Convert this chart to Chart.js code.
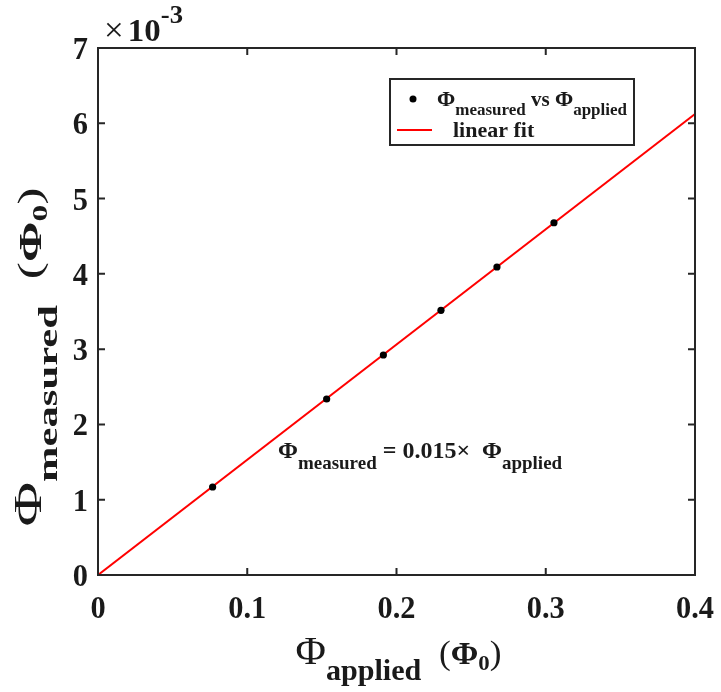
<!DOCTYPE html>
<html>
<head>
<meta charset="utf-8">
<script src="https://cdn.jsdelivr.net/npm/chart.js@4/dist/chart.umd.min.js"></script>
<style>
  html, body { margin: 0; padding: 0; background: #fff; }
  canvas { display: block; }
</style>
</head>
<body>
<canvas id="c" width="721" height="692"></canvas>
<script>
// Applied flux (in units of flux quantum) and the measured response
const appliedFlux  = [0.0768, 0.1532, 0.1912, 0.2298, 0.2673, 0.3055];
const measuredFlux = [0.001169, 0.002338, 0.002922, 0.003516, 0.004091, 0.004679];

// End points of the linear fit
const fitApplied  = [0, 0.4];
const fitMeasured = [0, 0.006124];

// Axis ticks
const xTickValues = [0, 0.1, 0.2, 0.3, 0.4];
const xTickLabels = ['0', '0.1', '0.2', '0.3', '0.4'];
const yTickValues = [0, 0.001, 0.002, 0.003, 0.004, 0.005, 0.006, 0.007];
const yTickLabels = ['0', '1', '2', '3', '4', '5', '6', '7'];

const SERIF = "'Liberation Serif', 'Times New Roman', serif";
const INK = '#1a1a1a';
const AXIS = '#262626';

function f(weight, size) { return weight + ' ' + size + 'px ' + SERIF; }

// Draw a run of text pieces (with sub/superscript offsets) on one baseline.
// sx scales the run horizontally; if fit is given the run is stretched to that length.
function rich(ctx, segs, x, y, align, sx, fit) {
  ctx.save();
  let total = 0;
  segs.forEach(s => { ctx.font = s.font; total += ctx.measureText(s.t).width; });
  if (fit) sx = fit / total;
  ctx.translate(x, y);
  ctx.scale(sx, 1);
  let cx = align === 'center' ? -total / 2 : align === 'right' ? -total : 0;
  ctx.textBaseline = 'alphabetic';
  ctx.textAlign = 'left';
  segs.forEach(s => {
    ctx.font = s.font;
    ctx.fillStyle = s.color || INK;
    ctx.fillText(s.t, cx, s.dy || 0);
    cx += ctx.measureText(s.t).width;
  });
  ctx.restore();
}

const decorations = {
  id: 'decorations',
  afterDatasetsDraw(chart) {
    const ctx = chart.ctx;
    const a = chart.chartArea;
    const xs = chart.scales.x, ys = chart.scales.y;

    // Box around the plot
    ctx.save();
    ctx.strokeStyle = AXIS;
    ctx.lineWidth = 2;
    ctx.strokeRect(a.left, a.top, a.right - a.left, a.bottom - a.top);

    // Inward tick marks on all four sides
    const TL = 7;
    ctx.beginPath();
    xTickValues.forEach(v => {
      const px = xs.getPixelForValue(v);
      ctx.moveTo(px, a.bottom); ctx.lineTo(px, a.bottom - TL);
      ctx.moveTo(px, a.top);    ctx.lineTo(px, a.top + TL);
    });
    yTickValues.forEach(v => {
      const py = ys.getPixelForValue(v);
      ctx.moveTo(a.left, py);  ctx.lineTo(a.left + TL, py);
      ctx.moveTo(a.right, py); ctx.lineTo(a.right - TL, py);
    });
    ctx.stroke();
    ctx.restore();

    // Tick labels
    xTickValues.forEach((v, i) => {
      rich(ctx, [{ t: xTickLabels[i], font: f(700, 32) }], xs.getPixelForValue(v), a.bottom + 43, 'center', 0.95);
    });
    yTickValues.forEach((v, i) => {
      rich(ctx, [{ t: yTickLabels[i], font: f(700, 32) }], a.left - 10, ys.getPixelForValue(v) + 11, 'right', 0.95);
    });

    // Exponent of the y axis
    rich(ctx, [
      { t: '\u00d7', font: f(400, 34) },
      { t: ' ', font: f(400, 16) },
      { t: '10', font: f(700, 32) },
      { t: '-3', font: f(700, 26), dy: -18 }
    ], a.left + 6, a.top - 7, 'left', 1, 79);

    // Axis titles
    rich(ctx, [
      { t: '\u03a6', font: f(400, 40) },
      { t: 'applied', font: f(700, 29), dy: 16 },
      { t: '  (', font: f(400, 34) },
      { t: '\u03a6', font: f(700, 32) },
      { t: '0', font: f(700, 22), dy: 6 },
      { t: ')', font: f(400, 34) }
    ], (a.left + a.right) / 2 + 2, 664, 'center', 1, 206);

    ctx.save();
    ctx.translate(41, 357);
    ctx.rotate(-Math.PI / 2);
    rich(ctx, [
      { t: '\u03a6', font: f(400, 40) },
      { t: 'measured', font: f(700, 28), dy: 16 },
      { t: '  (', font: f(400, 34) },
      { t: '\u03a6', font: f(700, 32) },
      { t: '0', font: f(700, 22), dy: 6 },
      { t: ')', font: f(400, 34) }
    ], 0, 0, 'center', 1, 339);
    ctx.restore();

    // Fit equation
    rich(ctx, [
      { t: '\u03a6', font: f(700, 24) },
      { t: 'measured', font: f(700, 19), dy: 11 },
      { t: ' = 0.015\u00d7  ', font: f(700, 24) },
      { t: '\u03a6', font: f(700, 24) },
      { t: 'applied', font: f(700, 19), dy: 11 }
    ], 278, 458, 'left', 1);

    // Legend
    ctx.save();
    ctx.fillStyle = '#fff';
    ctx.fillRect(390, 79, 244, 66);
    ctx.strokeStyle = AXIS;
    ctx.lineWidth = 2;
    ctx.strokeRect(390, 79, 244, 66);
    ctx.fillStyle = '#000';
    ctx.beginPath();
    ctx.arc(413, 99, 3.5, 0, Math.PI * 2);
    ctx.fill();
    ctx.strokeStyle = '#ff0000';
    ctx.beginPath();
    ctx.moveTo(397, 130); ctx.lineTo(432, 130);
    ctx.stroke();
    ctx.restore();
    rich(ctx, [
      { t: '\u03a6', font: f(700, 22) },
      { t: 'measured', font: f(700, 17), dy: 9 },
      { t: ' vs ', font: f(700, 21) },
      { t: '\u03a6', font: f(700, 22) },
      { t: 'applied', font: f(700, 17), dy: 9 }
    ], 437, 106, 'left', 1);
    rich(ctx, [{ t: 'linear fit', font: f(700, 22) }], 453, 137, 'left', 1);
  }
};

new Chart(document.getElementById('c'), {
  type: 'scatter',
  data: {
    datasets: [
      {
        label: 'measured vs applied',
        data: appliedFlux.map((x, i) => ({ x, y: measuredFlux[i] })),
        pointRadius: 3.6,
        pointBackgroundColor: '#000',
        pointBorderWidth: 0,
        showLine: false
      },
      {
        label: 'linear fit',
        data: fitApplied.map((x, i) => ({ x, y: fitMeasured[i] })),
        showLine: true,
        borderColor: '#ff0000',
        borderWidth: 2,
        pointRadius: 0
      }
    ]
  },
  options: {
    responsive: false,
    animation: false,
    devicePixelRatio: 1,
    layout: { padding: { top: 48, right: 26, left: 0, bottom: 0 } },
    plugins: { legend: { display: false }, tooltip: { enabled: false } },
    scales: {
      x: {
        type: 'linear', min: 0, max: 0.4,
        afterBuildTicks: s => { s.ticks = xTickValues.map(v => ({ value: v })); },
        afterFit: s => { s.height = 117; },
        ticks: { display: false },
        grid: { display: false },
        border: { display: false }
      },
      y: {
        type: 'linear', min: 0, max: 0.007,
        afterBuildTicks: s => { s.ticks = yTickValues.map(v => ({ value: v })); },
        afterFit: s => { s.width = 98; },
        ticks: { display: false },
        grid: { display: false },
        border: { display: false }
      }
    }
  },
  plugins: [decorations]
});
</script>
</body>
</html>
